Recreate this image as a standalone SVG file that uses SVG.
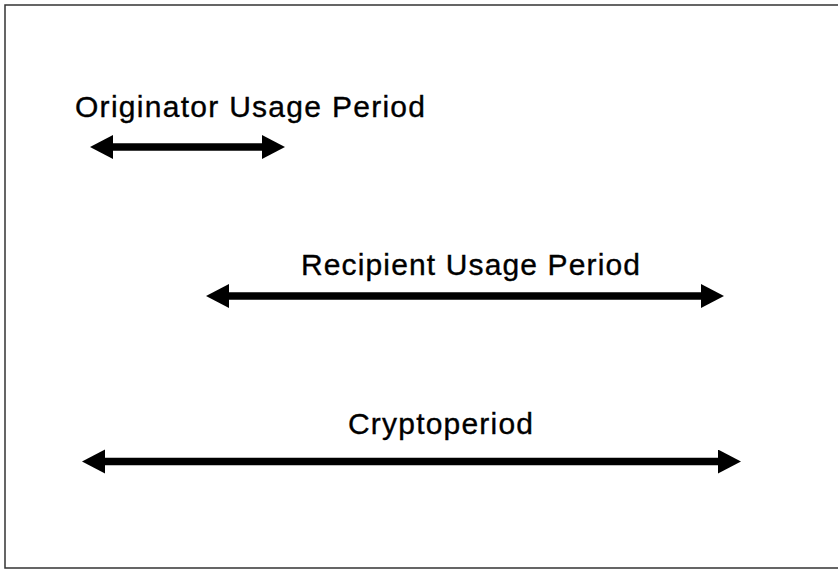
<svg xmlns="http://www.w3.org/2000/svg" width="838" height="569" viewBox="0 0 838 569">
  <style>
    .lbl { font-family: "Liberation Sans", Arial, sans-serif; font-size: 30px; fill: #000; stroke: #000; stroke-width: 0.35; }
    .arr { stroke: #000; stroke-width: 7.5; fill: none; marker-start: url(#head); marker-end: url(#head); }
  </style>
  <defs>
    <marker id="head" markerUnits="userSpaceOnUse" markerWidth="24" markerHeight="25" refX="13" refY="12" orient="auto-start-reverse" viewBox="0 0 24 25">
      <path d="M0,0 L23,12 L0,24 Z" fill="#000"/>
    </marker>
  </defs>
  <rect width="838" height="569" fill="#fff"/>
  <path d="M838,5 L5,5 L5,568 L838,568" fill="none" stroke="#333" stroke-width="1.5"/>
  <g id="connectors">
    <line id="c-originator" class="arr" x1="100" y1="147" x2="275" y2="147"/>
    <line id="c-recipient" class="arr" x1="216" y1="296" x2="714" y2="296"/>
    <line id="c-crypto" class="arr" x1="92" y1="461.5" x2="731" y2="461.5"/>
  </g>
  <g id="label-originator">
    <text class="lbl" x="75" y="117" textLength="350" lengthAdjust="spacing">Originator Usage Period</text>
  </g>
  <g id="label-recipient">
    <text class="lbl" x="301" y="275" textLength="339" lengthAdjust="spacing">Recipient Usage Period</text>
  </g>
  <g id="label-crypto">
    <text class="lbl" x="348" y="434" textLength="185" lengthAdjust="spacing">Cryptoperiod</text>
  </g>
</svg>
